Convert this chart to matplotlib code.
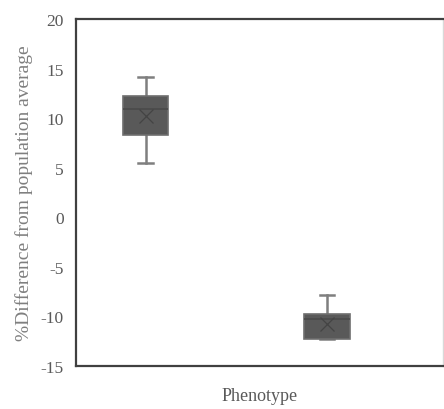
import matplotlib
matplotlib.use("Agg")
import matplotlib.pyplot as plt

# box statistics
groups = ["A", "B"]
whislo = [5.5, -12.3]
q1 = [8.35, -12.3]
med = [10.9, -10.3]
q3 = [12.2, -9.75]
whishi = [14.2, -7.8]
means = [10.2, -10.8]
yticks = [20, 15, 10, 5, 0, -5, -10, -15]

plt.rcParams['font.family'] = ['Liberation Serif', 'DejaVu Serif']
plt.rcParams['axes.unicode_minus'] = False

stats = []
for i in range(len(groups)):
    stats.append(dict(label=groups[i], whislo=whislo[i], q1=q1[i], med=med[i],
                      q3=q3[i], whishi=whishi[i], mean=means[i], fliers=[]))

fig = plt.figure(figsize=(4.44, 4.10), dpi=100)
ax = fig.add_axes([76/444, 43/410, 367/444, 347/410])

parts = ax.bxp(stats, positions=[1, 2], widths=0.25, patch_artist=True, showmeans=True,
       showfliers=False,
       boxprops=dict(facecolor="#595959", edgecolor="#6e6e6e", linewidth=1.2, zorder=3),
       medianprops=dict(color="#4a4a4a", linewidth=1.2, zorder=4),
       whiskerprops=dict(color="#7f7f7f", linewidth=1.8, zorder=2),
       capprops=dict(color="#7f7f7f", linewidth=1.8, zorder=2),
       capwidths=0.08,
       meanprops=dict(marker="x", markeredgecolor="#444444", markersize=10,
                      markeredgewidth=0.9, zorder=5))

ax.set_xlim(0.617, 2.639)
ax.set_ylim(-15, 20)
ax.set_yticks(yticks)
ax.set_xticks([])
ax.tick_params(axis="y", length=0, labelsize=12.5, labelcolor="#595959", pad=9)

for s in ["left", "bottom", "top"]:
    ax.spines[s].set_color("#404040")
    ax.spines[s].set_linewidth(1.6)
ax.spines["right"].set_color("#d9d9d9")
ax.spines["right"].set_linewidth(1.0)

ax.set_ylabel("%Difference from population average", fontsize=14,
              color="#7f7f7f", labelpad=5)
ax.set_xlabel("Phenotype", fontsize=13, color="#595959", labelpad=15)

fig.savefig("out.png", dpi=100)
